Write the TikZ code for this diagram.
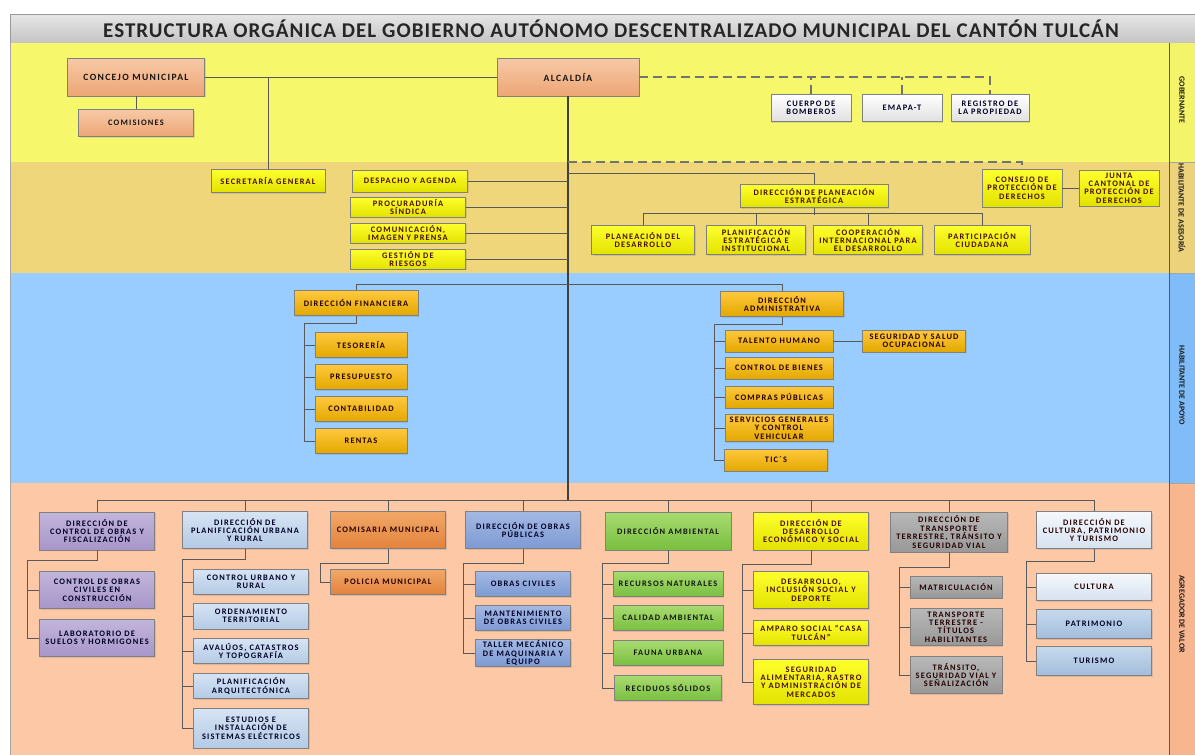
\documentclass[tikz,border=0pt]{standalone}
\usepackage{fontspec}
\setmainfont{Carlito}
\newfontfamily\boxfam{Carlito}[LetterSpace=14]
\newfontfamily\titlefam{Carlito}[LetterSpace=5]
\usepackage{xcolor}
\usepackage{tikz}
\usetikzlibrary{shadows,calc}

% band colours
\definecolor{govband}{HTML}{F7F76B}
\definecolor{govlab}{HTML}{F4F46A}
\definecolor{aseband}{HTML}{F0D67B}
\definecolor{aselab}{HTML}{EDD27C}
\definecolor{apoband}{HTML}{99CCFF}
\definecolor{apolab}{HTML}{80BDF8}
\definecolor{agrband}{HTML}{FCC8A6}
\definecolor{agrlab}{HTML}{F8B68F}
\definecolor{titletop}{HTML}{E6E6E6}
\definecolor{titlebot}{HTML}{C4C4C4}
% box colours
\definecolor{salmtop}{HTML}{F7C9A6}
\definecolor{salmbot}{HTML}{EDA676}
\definecolor{yeltop}{HTML}{FFFF2E}
\definecolor{yelbot}{HTML}{E2E200}
\definecolor{yeltext}{HTML}{4A0E0E}
\definecolor{goldtop}{HTML}{FFC83D}
\definecolor{goldbot}{HTML}{E2A800}
\definecolor{purtop}{HTML}{C2B5DB}
\definecolor{purbot}{HTML}{A796C9}
\definecolor{ltbtop}{HTML}{D6E4F4}
\definecolor{ltbbot}{HTML}{B4CAE5}
\definecolor{orgtop}{HTML}{F2A868}
\definecolor{orgbot}{HTML}{E2823C}
\definecolor{blutop}{HTML}{A4B9E3}
\definecolor{blubot}{HTML}{7D9AD3}
\definecolor{grntop}{HTML}{A8DB6F}
\definecolor{grnbot}{HTML}{79BF40}
\definecolor{grytop}{HTML}{B8B8B8}
\definecolor{grybot}{HTML}{989898}
\definecolor{cultop}{HTML}{F5F8FC}
\definecolor{culbot}{HTML}{D6E2F0}
\definecolor{pattop}{HTML}{C6D8EC}
\definecolor{patbot}{HTML}{A3BDDD}

\tikzstyle{box} = [draw=black!50, line width=0.6pt, align=center, inner sep=1pt,
  font=\boxfam\bfseries\fontsize{8.4}{8.4}\selectfont, text=black!92,
  drop shadow={opacity=0.25, shadow xshift=1.2pt, shadow yshift=-1.2pt}]
\tikzstyle{salm} = [box, top color=salmtop, bottom color=salmbot]
\tikzstyle{wbox} = [box, top color=white, bottom color=black!12, text=black!85!blue]
\tikzstyle{yel} = [box, top color=yeltop, bottom color=yelbot, text=yeltext]
\tikzstyle{gold} = [box, top color=goldtop, bottom color=goldbot, text=black!85!red]
\tikzstyle{pur} = [box, top color=purtop, bottom color=purbot, text=black!85!blue]
\tikzstyle{ltb} = [box, top color=ltbtop, bottom color=ltbbot, text=black!85!blue]
\tikzstyle{org} = [box, top color=orgtop, bottom color=orgbot, text=black!85!red]
\tikzstyle{blu} = [box, top color=blutop, bottom color=blubot, text=black!85!blue]
\tikzstyle{grn} = [box, top color=grntop, bottom color=grnbot]
\tikzstyle{gry} = [box, top color=grytop, bottom color=grybot, text=black!85!red]
\tikzstyle{cul} = [box, top color=cultop, bottom color=culbot, text=black!85!red]
\tikzstyle{pat} = [box, top color=pattop, bottom color=patbot, text=black!85!blue]
\tikzstyle{line} = [draw=black!65, line width=0.8pt]
\tikzstyle{trunk} = [draw=black!75, line width=1.3pt]
\tikzstyle{dline} = [draw=black!55, line width=1.2pt, dash pattern=on 9pt off 5pt]
\tikzstyle{lab} = [rotate=-90, font=\bfseries\fontsize{8}{9}\selectfont, text=black!90]
\tikzset{wh/.style 2 args={minimum width=#1pt, minimum height=#2pt}}

\begin{document}
\begin{tikzpicture}[x=1pt,y=-1pt]
		\useasboundingbox (0,0) rectangle (1195,755);
		\fill[white] (0,0) rectangle (1195,755);
		
		% title bar
		\shade[top color=titletop, bottom color=titlebot] (10,14) rectangle (1195,43);
		\draw[black!40] (10,14) rectangle (1195,43);
		\node[font=\titlefam\bfseries\fontsize{21}{23}\selectfont, text=black!85] (tit) at (611,29) {ESTRUCTURA ORGÁNICA DEL GOBIERNO AUTÓNOMO DESCENTRALIZADO MUNICIPAL DEL CANTÓN TULCÁN};
		
		% bands
		\fill[govband] (10,43) rectangle (1169,162); % gobernante
		\fill[aseband] (10,162) rectangle (1169,273); % asesoria
		\fill[apoband] (10,273) rectangle (1169,483); % apoyo
		\fill[agrband] (10,483) rectangle (1169,755); % agregador de valor
		\fill[govlab] (1169,43) rectangle (1195,162);
		\fill[aselab] (1169,162) rectangle (1195,273);
		\fill[apolab] (1169,273) rectangle (1195,483);
		\fill[agrlab] (1169,483) rectangle (1195,755);
		\draw[black!35] (10,43) -- (10,755);
		\draw[black!35] (1169,162) -- (1195,162);
		\draw[black!35] (1169,273) -- (1195,273);
		\draw[black!35] (1169,483) -- (1195,483);
		\draw[black!65, line width=0.8pt] (1169,43) -- (1169,755); % label column
		\node[lab] (lgov) at (1182,100) {GOBERNANTE};
		\node[lab] (lase) at (1182,208) {HABILITANTE DE ASESORÍA};
		\node[lab] (lapo) at (1182,385) {HABILITANTE DE APOYO};
		\node[lab] (lagr) at (1182,614) {AGREGADOR DE VALOR};
		
		% gobernante
		\node[salm, wh={137}{38}, font=\boxfam\bfseries\fontsize{9.6}{10}\selectfont] (conc) at (136,77) {CONCEJO MUNICIPAL};
		\node[salm, wh={115}{27}] (comi) at (136,123) {COMISIONES};
		\node[salm, wh={142}{38}, font=\boxfam\bfseries\fontsize{9.6}{10}\selectfont] (alc) at (568,77) {ALCALDÍA};
		\node[wbox, wh={80}{27}] (bomb) at (811,108) {CUERPO DE\\BOMBEROS};
		\node[wbox, wh={80}{27}] (emap) at (902,108) {EMAPA-T};
		\node[wbox, wh={78}{27}] (regi) at (990,108) {REGISTRO DE\\LA PROPIEDAD};
		
		% asesoria
		\node[yel, wh={114}{23}] (secr) at (268,181) {SECRETARÍA GENERAL};
		\node[yel, wh={115}{22}] (desp) at (410,181) {DESPACHO Y AGENDA};
		\node[yel, wh={115}{20}] (proc) at (408,207) {PROCURADURÍA\\SÍNDICA};
		\node[yel, wh={115}{20}] (comu) at (408,233) {COMUNICACIÓN,\\IMAGEN Y PRENSA};
		\node[yel, wh={115}{20}] (gest) at (408,259) {GESTIÓN DE\\RIESGOS};
		\node[yel, wh={148}{23}] (plan) at (814,196) {DIRECCIÓN DE PLANEACIÓN\\ESTRATÉGICA};
		\node[yel, wh={103}{29}] (pdes) at (643,240) {PLANEACIÓN DEL\\DESARROLLO};
		\node[yel, wh={99}{29}] (pest) at (756,240) {PLANIFICACIÓN\\ESTRATÉGICA E\\INSTITUCIONAL};
		\node[yel, wh={109}{29}] (coop) at (868,240) {COOPERACIÓN\\INTERNACIONAL PARA\\EL DESARROLLO};
		\node[yel, wh={96}{29}] (part) at (982,240) {PARTICIPACIÓN\\CIUDADANA};
		\node[yel, wh={80}{38}] (cons) at (1022,188) {CONSEJO DE\\PROTECCIÓN DE\\DERECHOS};
		\node[yel, wh={80}{36}] (junt) at (1119,188) {JUNTA\\CANTONAL DE\\PROTECCIÓN DE\\DERECHOS};
		
		% apoyo
		\node[gold, wh={124}{25}] (fina) at (356,303) {DIRECCIÓN FINANCIERA};
		\node[gold, wh={92}{25}] (teso) at (361,345) {TESORERÍA};
		\node[gold, wh={92}{25}] (pres) at (361,377) {PRESUPUESTO};
		\node[gold, wh={92}{25}] (cont) at (361,409) {CONTABILIDAD};
		\node[gold, wh={92}{25}] (rent) at (361,441) {RENTAS};
		\node[gold, wh={123}{25}] (admi) at (782,304) {DIRECCIÓN\\ADMINISTRATIVA};
		\node[gold, wh={108}{22}] (tale) at (779,341) {TALENTO HUMANO};
		\node[gold, wh={103}{22}] (segu) at (914,341) {SEGURIDAD Y SALUD\\OCUPACIONAL};
		\node[gold, wh={108}{22}] (bien) at (779,368) {CONTROL DE BIENES};
		\node[gold, wh={108}{22}] (comp) at (779,397) {COMPRAS PÚBLICAS};
		\node[gold, wh={108}{27}] (serv) at (779,428) {SERVICIOS GENERALES\\Y CONTROL\\VEHICULAR};
		\node[gold, wh={103}{22}] (tics) at (776,460) {TIC´S};
		
		% agregador de valor
		\node[pur, wh={115}{38}] (dcob) at (97,531) {DIRECCIÓN DE\\CONTROL DE OBRAS Y\\FISCALIZACIÓN};
		\node[pur, wh={115}{37}] (cobr) at (97,590) {CONTROL DE OBRAS\\CIVILES EN\\CONSTRUCCIÓN};
		\node[pur, wh={115}{37}] (labo) at (97,638) {LABORATORIO DE\\SUELOS Y HORMIGONES};
		
		\node[ltb, wh={125}{37}] (dpur) at (245,530) {DIRECCIÓN DE\\PLANIFICACIÓN URBANA\\Y RURAL};
		\node[ltb, wh={115}{25}] (curb) at (251,582) {CONTROL URBANO Y\\RURAL};
		\node[ltb, wh={115}{26}] (orde) at (251,616) {ORDENAMIENTO\\TERRITORIAL};
		\node[ltb, wh={115}{25}] (aval) at (251,651) {AVALÚOS, CATASTROS\\Y TOPOGRAFÍA};
		\node[ltb, wh={115}{25}] (parq) at (251,686) {PLANIFICACIÓN\\ARQUITECTÓNICA};
		\node[ltb, wh={115}{40}] (estu) at (251,728) {ESTUDIOS E\\INSTALACIÓN DE\\SISTEMAS ELÉCTRICOS};
		
		\node[org, wh={115}{37}] (cmun) at (388,530) {COMISARIA MUNICIPAL};
		\node[org, wh={115}{25}] (poli) at (388,582) {POLICIA MUNICIPAL};
		
		\node[blu, wh={115}{37}] (dopu) at (523,530) {DIRECCIÓN DE OBRAS\\PÚBLICAS};
		\node[blu, wh={95}{25}] (ociv) at (523,584) {OBRAS CIVILES};
		\node[blu, wh={95}{25}] (mant) at (523,618) {MANTENIMIENTO\\DE OBRAS CIVILES};
		\node[blu, wh={95}{25}] (tall) at (523,653) {TALLER MECÁNICO\\DE MAQUINARIA Y\\EQUIPO};
		
		\node[grn, wh={126}{38}] (damb) at (668,531) {DIRECCIÓN AMBIENTAL};
		\node[grn, wh={110}{25}] (rnat) at (668,584) {RECURSOS NATURALES};
		\node[grn, wh={110}{25}] (cali) at (668,618) {CALIDAD AMBIENTAL};
		\node[grn, wh={110}{25}] (faun) at (668,653) {FAUNA URBANA};
		\node[grn, wh={107}{25}] (reci) at (668,688) {RECIDUOS SÓLIDOS};
		
		\node[yel, wh={115}{38}] (ddes) at (811,531) {DIRECCIÓN DE\\DESARROLLO\\ECONÓMICO Y SOCIAL};
		\node[yel, wh={115}{37}] (dinc) at (811,590) {DESARROLLO,\\INCLUSIÓN SOCIAL Y\\DEPORTE};
		\node[yel, wh={115}{25}] (ampa) at (811,633) {AMPARO SOCIAL “CASA\\TULCÁN”};
		\node[yel, wh={115}{45}] (sali) at (811,682) {SEGURIDAD\\ALIMENTARIA, RASTRO\\Y ADMINISTRACIÓN DE\\MERCADOS};
		
		\node[gry, wh={117}{40}] (dtra) at (949,532) {DIRECCIÓN DE\\TRANSPORTE\\TERRESTRE, TRÁNSITO Y\\SEGURIDAD VIAL};
		\node[gry, wh={92}{22}] (matr) at (956,587) {MATRICULACIÓN};
		\node[gry, wh={92}{37}] (tter) at (956,627) {TRANSPORTE\\TERRESTRE -\\TÍTULOS\\HABILITANTES};
		\node[gry, wh={92}{37}] (tran) at (956,675) {TRÁNSITO,\\SEGURIDAD VIAL Y\\SEÑALIZACIÓN};
		
		\node[cul, wh={115}{37}] (dcul) at (1094,530) {DIRECCIÓN DE\\CULTURA, PATRIMONIO\\Y TURISMO};
		\node[cul, wh={115}{27}] (cult) at (1094,587) {CULTURA};
		\node[pat, wh={115}{29}] (patr) at (1094,624) {PATRIMONIO};
		\node[pat, wh={115}{29}] (turi) at (1094,661) {TURISMO};
		
		% helper points on the trunk and brackets
		\coordinate (tasd) at (568,162); % dashed branch
		\coordinate (tpla) at (568,173); % planeacion branch
		\coordinate (tbus) at (568,501); % bottom bus
		\coordinate (bfin) at (304,323);
		\coordinate (badm) at (714,324);
		\coordinate (bdco) at (27,560);
		\coordinate (bdpu) at (182,559);
		\coordinate (bcmu) at (320,563);
		\coordinate (bdop) at (463,563);
		\coordinate (bdam) at (602,563);
		\coordinate (bdde) at (742,564);
		\coordinate (bdtr) at (899,567);
		\coordinate (bdcu) at (1026,561);
		
		% gobernante lines
		\draw[line] (conc.east) -- (alc.west);
		\draw[line] (conc.south) -- (comi.north);
		\draw[line] (secr.north) -- (secr.north |- conc.east);
		\draw[dline] (alc.east) -| (regi.north);
		\draw[dline] (bomb.north) -- (bomb.north |- alc.east);
		\draw[dline] (emap.north) -- (emap.north |- alc.east);
		\draw[trunk] (alc.south) -- (tbus); % main trunk
		
		% asesoria lines
		\draw[line] (desp.east) -- (desp.east -| alc.south);
		\draw[line] (proc.east) -- (proc.east -| alc.south);
		\draw[line] (comu.east) -- (comu.east -| alc.south);
		\draw[line] (gest.east) -- (gest.east -| alc.south);
		\draw[dline] (tasd) -| (cons.north);
		\draw[line] (tpla) -| (plan.north);
		\draw[line] (pdes.north) -- +(0,-12) -| (part.north);
		\draw[line] (pest.north) -- +(0,-12);
		\draw[line] (coop.north) -- +(0,-12);
		\draw[line] (plan.south) -- +(0,7);
		\draw[line] (cons.east) -- (junt.west);
		
		% apoyo lines
		\draw[line] (fina.north) -- +(0,-6) -| (admi.north);
		\draw[line] (fina.south) |- (bfin) |- (rent.west);
		\draw[line] (bfin |- teso.west) -- (teso.west);
		\draw[line] (bfin |- pres.west) -- (pres.west);
		\draw[line] (bfin |- cont.west) -- (cont.west);
		\draw[line] (admi.south) |- (badm) |- (tics.west);
		\draw[line] (badm |- tale.west) -- (tale.west);
		\draw[line] (badm |- bien.west) -- (bien.west);
		\draw[line] (badm |- comp.west) -- (comp.west);
		\draw[line] (badm |- serv.west) -- (serv.west);
		\draw[line] (tale.east) -- (segu.west);
		
		% agregador de valor lines
		\draw[line] (dcob.north) -- +(0,-11) -| (dcul.north); % bus
		\draw[line] (dpur.north) -- +(0,-11);
		\draw[line] (cmun.north) -- +(0,-11);
		\draw[line] (dopu.north) -- +(0,-11);
		\draw[line] (damb.north) -- +(0,-11);
		\draw[line] (ddes.north) -- +(0,-11);
		\draw[line] (dtra.north) -- +(0,-11);
		
		\draw[line] (dcob.south) |- (bdco) |- (labo.west);
		\draw[line] (bdco |- cobr.west) -- (cobr.west);
		
		\draw[line] (dpur.south) |- (bdpu) |- (estu.west);
		\draw[line] (bdpu |- curb.west) -- (curb.west);
		\draw[line] (bdpu |- orde.west) -- (orde.west);
		\draw[line] (bdpu |- aval.west) -- (aval.west);
		\draw[line] (bdpu |- parq.west) -- (parq.west);
		
		\draw[line] (cmun.south) |- (bcmu) |- (poli.west);
		
		\draw[line] (dopu.south) |- (bdop) |- (tall.west);
		\draw[line] (bdop |- ociv.west) -- (ociv.west);
		\draw[line] (bdop |- mant.west) -- (mant.west);
		
		\draw[line] (damb.south) |- (bdam) |- (reci.west);
		\draw[line] (bdam |- rnat.west) -- (rnat.west);
		\draw[line] (bdam |- cali.west) -- (cali.west);
		\draw[line] (bdam |- faun.west) -- (faun.west);
		
		\draw[line] (ddes.south) |- (bdde) |- (sali.west);
		\draw[line] (bdde |- dinc.west) -- (dinc.west);
		\draw[line] (bdde |- ampa.west) -- (ampa.west);
		
		\draw[line] (dtra.south) |- (bdtr) |- (tran.west);
		\draw[line] (bdtr |- matr.west) -- (matr.west);
		\draw[line] (bdtr |- tter.west) -- (tter.west);
		
		\draw[line] (dcul.south) |- (bdcu) |- (turi.west);
		\draw[line] (bdcu |- cult.west) -- (cult.west);
		\draw[line] (bdcu |- patr.west) -- (patr.west);
		
\end{tikzpicture}
\end{document}
